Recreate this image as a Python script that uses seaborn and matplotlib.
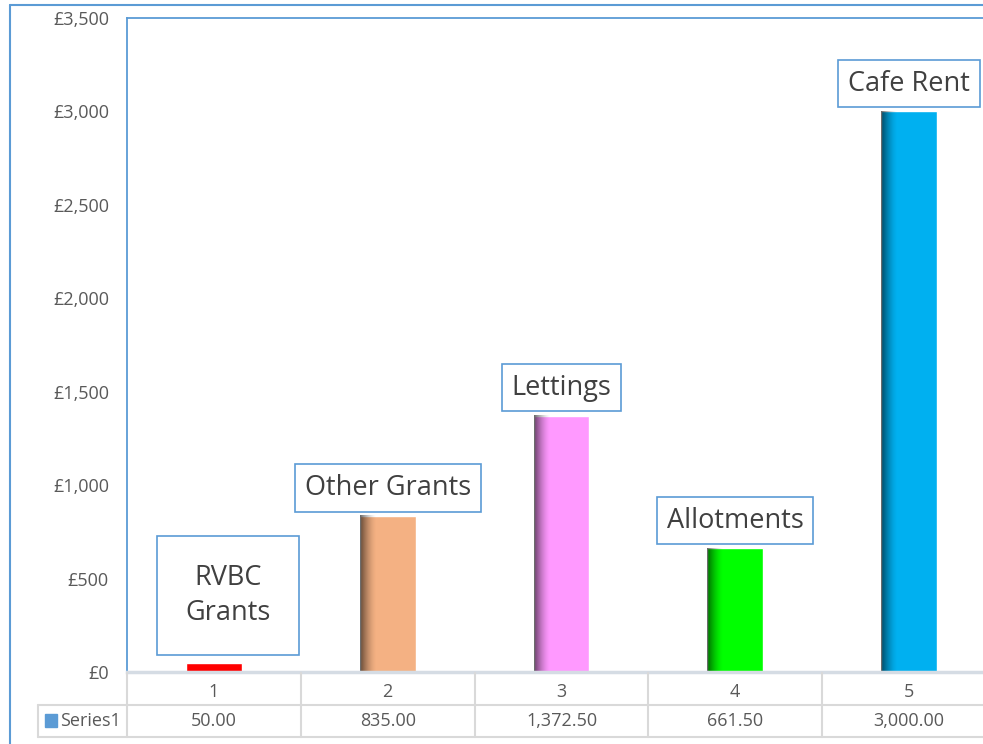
import numpy as np
import pandas as pd
import seaborn as sns
import matplotlib.pyplot as plt
import matplotlib.transforms as mtransforms
from matplotlib.lines import Line2D
from matplotlib.patches import Rectangle

sns.set_style('white')
plt.rcParams['font.family'] = ['Open Sans', 'DejaVu Sans']

# data
categories = ['1', '2', '3', '4', '5']
values = [50.00, 835.00, 1372.50, 661.50, 3000.00]
names = ['RVBC\nGrants', 'Other Grants', 'Lettings', 'Allotments', 'Cafe Rent']
bar_colors = ['#FF0000', '#F4B183', '#FF99FF', '#00FF00', '#00B0F0']
series_name = 'Series1'
yticks = [0, 500, 1000, 1500, 2000, 2500, 3000, 3500]

df = pd.DataFrame({'cat': categories, 'value': values})

W, H = 983, 744
fx = lambda px: px / W
fy = lambda py: 1 - py / H

fig = plt.figure(figsize=(W / 100, H / 100), dpi=100)
ax = fig.add_axes([fx(127), fy(672), fx(996) - fx(127), fy(18) - fy(672)])

sns.barplot(data=df, x='cat', y='value', hue='cat', palette=bar_colors,
            width=0.32, legend=False, saturation=1, ax=ax)

# left side shading on the bars, like the excel bevel
grad = np.zeros((1, 64, 4))
t = np.linspace(0, 1, 64)
grad[0, :, 3] = 0.6 * (1 - t) ** 1.6
for p in ax.patches:
    x0, w, h = p.get_x(), p.get_width(), p.get_height()
    if h < 200:
        continue
    ax.imshow(grad, extent=[x0, x0 + w * 0.3, 0, h], aspect='auto',
              zorder=p.get_zorder() + 0.5, interpolation='bilinear')

ax.set_xlim(-0.5, 4.5)
ax.set_ylim(0, 3500)
ax.set_yticks(yticks)
ax.set_yticklabels(['£{:,}'.format(v) for v in yticks])
ax.tick_params(axis='y', length=0, pad=13, labelsize=13, labelcolor='#595959')
ax.tick_params(axis='x', length=0, pad=8, labelsize=13, labelcolor='#595959')
ax.set_xlabel('')
ax.set_ylabel('')

for s in ['left', 'top']:
    ax.spines[s].set_color('#5B9BD5')
    ax.spines[s].set_linewidth(1.3)
ax.spines['right'].set_visible(False)
ax.spines['bottom'].set_color('#D5DCE4')
ax.spines['bottom'].set_linewidth(2.5)
ax.spines['bottom'].set_zorder(5)

# category name boxes above bars
for i, (v, n) in enumerate(zip(values, names)):
    if i == 0:
        # the two-line box was dragged a bit right and made bigger
        off, pad, ls = (10, 26), 1.05, 1.3
    else:
        off, pad, ls = (0, 10), 0.36, 1.2
    ax.annotate(n, (i, v), xytext=off, textcoords='offset points',
                ha='center', va='bottom', fontsize=19.5, color='#404040',
                linespacing=ls,
                bbox=dict(boxstyle='square,pad=%.2f' % pad, fc='white',
                          ec='#5B9BD5', lw=1.2))

# data table under the axis
tr = mtransforms.blended_transform_factory(ax.transData, fig.transFigure)
grid_c = '#D9D9D9'
for i in range(len(categories) + 1):
    fig.add_artist(Line2D([i - 0.5, i - 0.5], [fy(673), fy(737)], transform=tr,
                          color=grid_c, lw=1.5))
for py in [705, 737]:
    fig.add_artist(Line2D([fx(38), 1.0], [fy(py), fy(py)],
                          transform=fig.transFigure, color=grid_c, lw=1.5))
fig.add_artist(Line2D([fx(38), fx(38)], [fy(705), fy(737)],
                      transform=fig.transFigure, color=grid_c, lw=1.5))
for i, v in enumerate(values):
    fig.text(i, fy(721), '{:,.2f}'.format(v), transform=tr,
             ha='center', va='center', fontsize=13, color='#595959')
fig.add_artist(Rectangle((fx(45), fy(727)), fx(57) - fx(45), fy(714) - fy(727),
                         transform=fig.transFigure, color='#5B9BD5'))
fig.text(fx(60), fy(721), series_name, ha='left', va='center',
         fontsize=13, color='#595959')

# chart area border (cut off at right and bottom)
fig.add_artist(Line2D([fx(10), fx(10)], [fy(5), 0], transform=fig.transFigure,
                      color='#5B9BD5', lw=1.5))
fig.add_artist(Line2D([fx(10), 1.0], [fy(5), fy(5)], transform=fig.transFigure,
                      color='#5B9BD5', lw=1.5))

fig.savefig('out.png', dpi=100)
